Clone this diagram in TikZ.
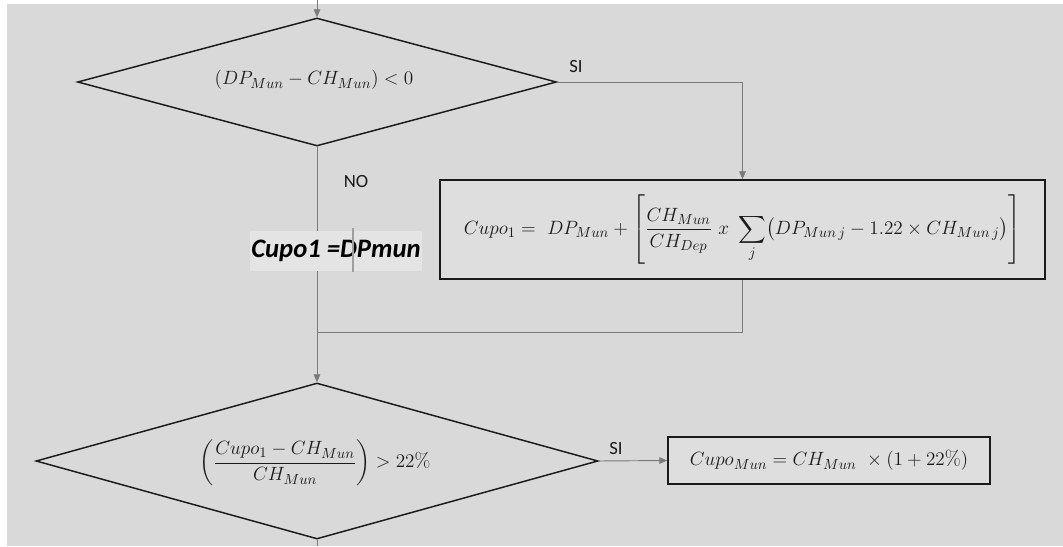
\documentclass[tikz,border=0pt]{standalone}
\usepackage{fontspec}
\usepackage{amsmath}
\newfontfamily\calib{Carlito}
\usetikzlibrary{shapes.geometric,arrows.meta}
\definecolor{bg}{HTML}{D9D9D9}
\definecolor{boxbg}{HTML}{DEDEDE}
\definecolor{txtbg}{HTML}{E4E4E4}
\definecolor{ink}{HTML}{1A1A1A}
\definecolor{conn}{HTML}{7A7A7A}
\begin{document}
\begin{tikzpicture}[x=0.75pt,y=-0.75pt,
  decision/.style={diamond, draw=ink, line width=1.1pt, inner sep=0pt, aspect=4},
  process/.style={rectangle, draw=ink, line width=1.1pt, fill=boxbg, inner sep=0pt},
  conn/.style={draw=conn, line width=0.7pt},
  arr/.style={-{Triangle[length=6pt,width=5pt]}},
  lab/.style={font=\calib\fontsize{14}{16}\selectfont, text=ink},
  mathtxt/.style={font=\fontsize{15.3}{18}\selectfont, text=ink, inner sep=1pt}]
\fill[white] (0,0) rectangle (1063,546);
\fill[bg] (7,4) rectangle (1063,546);
\useasboundingbox (0,0) rectangle (1063,546);

\coordinate (top) at (317,0);
\coordinate (j) at (317,332);
\coordinate (bot) at (317,546);

\node[decision, minimum width=359.25pt, minimum height=96pt] (d1) at (317,82) {};
\node[mathtxt] (t1) at (314,80) {$(DP_{Mun} - CH_{Mun}) < 0$};

\node[process, minimum width=453.75pt, minimum height=74.25pt] (b1) at (742.5,229.5)
  {\fontsize{15.3}{18}\selectfont\color{ink}$\displaystyle Cupo_1 = \ DP_{Mun} + \left[\frac{CH_{Mun}}{CH_{Dep}}\ x\ \sum_j\bigl(DP_{Mun\,j} - 1.22\times CH_{Mun\,j}\bigr)\right]$};

\node[decision, minimum width=421.5pt, minimum height=117pt] (d2) at (317,461) {};
\node[mathtxt] (t2) at (315,463) {$\displaystyle\left(\frac{Cupo_1 - CH_{Mun}}{CH_{Mun}}\right) > 22\%$};

\node[process, minimum width=241.5pt, minimum height=35.25pt] (b2) at (829,460.5)
  {\fontsize{15.5}{18}\selectfont\color{ink}$Cupo_{Mun} = CH_{Mun}\ \times (1 + 22\%)$};

\node[lab] (si1) at (576,67) {SI};
\node[lab] (no) at (356,182) {NO};
\node[lab] (si2) at (616,449) {SI};

\draw[conn,arr] (top) -- (d1.north);
\draw[conn,arr] (d1.east) -| (b1.north);
\draw[conn,arr] (d1.south) -- (d2.north);
\draw[conn] (b1.south) |- (j);
\draw[conn,arr] (d2.east) -- (b2.west);
\draw[conn] (d2.south) -- (bot);

\node[fill=txtbg, inner xsep=1pt, inner ysep=7pt, text=black,
      font=\calib\bfseries\itshape\fontsize{20}{22}\selectfont] (cupo) at (336,251) {Cupo1 =DPmun};
\coordinate (cur1) at (353,228);
\coordinate (cur2) at (353,272);
\draw[gray!75, line width=1pt] (cur1) -- (cur2);
\end{tikzpicture}
\end{document}
